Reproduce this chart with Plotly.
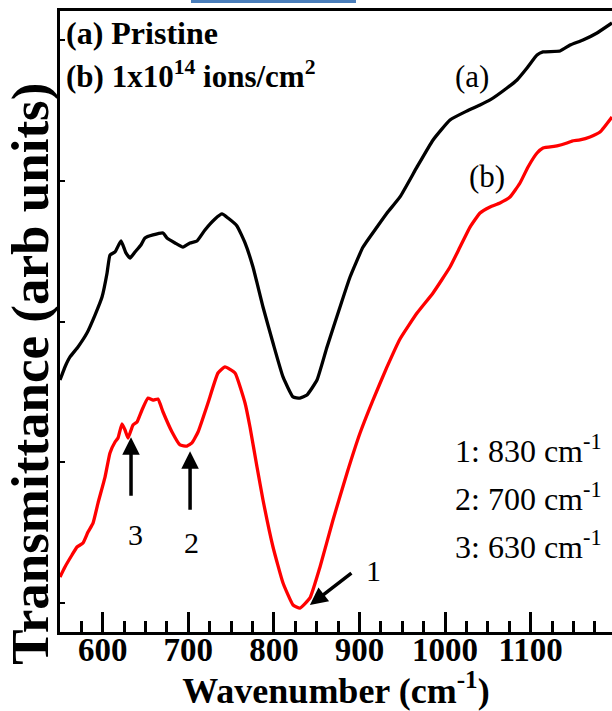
import numpy as np
import plotly.graph_objects as go

# ---- Data ----
# (a) Pristine
wn_a = [550.0, 555.8, 561.7, 571.0, 581.5, 590.9, 599.1, 605.0, 608.4, 614.3,
        621.3, 627.1, 631.8, 637.6, 644.6, 649.3, 658.7, 670.4, 675.0, 684.4,
        693.7, 701.9, 710.1, 719.4, 731.1, 739.3, 746.3, 756.8, 766.2, 775.5,
        787.2, 798.9, 810.6, 822.3, 830.4, 838.6, 850.3, 862.0, 877.2, 888.9,
        904.1, 920.4, 932.1, 947.3, 967.2, 985.9, 1005.7, 1025.6, 1040.8, 1052.5,
        1072.3, 1084.0, 1095.7, 1107.4, 1114.4, 1134.3, 1146.0, 1161.1, 1177.5, 1195.0]
t_a = [1.584, 1.677, 1.748, 1.819, 1.918, 2.046, 2.174, 2.345, 2.472, 2.494,
       2.572, 2.487, 2.451, 2.494, 2.544, 2.593, 2.615, 2.629, 2.593, 2.558,
       2.529, 2.558, 2.572, 2.650, 2.728, 2.764, 2.735, 2.679, 2.558, 2.387,
       2.103, 1.847, 1.606, 1.464, 1.456, 1.478, 1.584, 1.819, 2.103, 2.316,
       2.529, 2.671, 2.771, 2.885, 3.098, 3.290, 3.432, 3.496, 3.538, 3.574,
       3.659, 3.716, 3.801, 3.893, 3.915, 3.922, 3.964, 4.000, 4.050, 4.121]

# (b) 1x10^14 ions/cm^2
wn_b = [550.0, 555.8, 564.0, 569.9, 576.9, 582.7, 588.6, 594.4, 602.6, 608.4,
        614.3, 617.8, 622.4, 626.0, 629.5, 635.3, 640.0, 645.8, 652.8, 658.7,
        664.5, 670.4, 680.9, 690.2, 698.4, 704.2, 711.3, 722.9, 734.6, 742.8,
        754.5, 766.2, 772.0, 780.2, 787.2, 798.9, 810.6, 822.3, 830.4, 842.1,
        853.8, 869.0, 885.4, 900.6, 915.7, 932.1, 947.3, 967.2, 985.9, 1005.7,
        1017.4, 1029.1, 1040.8, 1052.5, 1064.1, 1075.8, 1087.5, 1096.9, 1107.4, 1114.4,
        1130.7, 1142.4, 1148.3, 1157.6, 1169.3, 1181.0, 1195.0]
t_b = [0.185, 0.256, 0.341, 0.398, 0.426, 0.504, 0.568, 0.710, 0.895, 1.066,
       1.144, 1.172, 1.272, 1.229, 1.172, 1.265, 1.286, 1.371, 1.456, 1.442,
       1.449, 1.357, 1.215, 1.123, 1.115, 1.137, 1.215, 1.421, 1.634, 1.677,
       1.634, 1.421, 1.250, 0.966, 0.732, 0.398, 0.142, -0.014, -0.036, 0.036,
       0.256, 0.590, 0.924, 1.208, 1.442, 1.677, 1.876, 2.060, 2.203, 2.387,
       2.529, 2.671, 2.771, 2.814, 2.842, 2.885, 2.984, 3.098, 3.197, 3.233,
       3.247, 3.268, 3.282, 3.290, 3.311, 3.346, 3.453]

peak_ids = ["1", "2", "3"]
peak_wn = [830, 700, 630]
x_ticks = [600, 700, 800, 900, 1000, 1100]

FONT = "Liberation Serif"

fig = go.Figure()
fig.add_trace(go.Scatter(x=wn_a, y=t_a, mode="lines", name="(a)",
                         line=dict(color="black", width=3.3, shape="spline", smoothing=0.4)))
fig.add_trace(go.Scatter(x=wn_b, y=t_b, mode="lines", name="(b)",
                         line=dict(color="#ff0000", width=3.3, shape="spline", smoothing=0.4)))

ann = []
# legend-like labels
ann.append(dict(text="(a) Pristine", xref="paper", yref="paper", x=0.008, y=0.965,
                xanchor="left", yanchor="middle", showarrow=False,
                font=dict(family=FONT, size=32, color="black", weight="bold")))
ann.append(dict(text="(b) 1x10<sup>14</sup> ions/cm<sup>2</sup>", xref="paper", yref="paper",
                x=0.008, y=0.897, xanchor="left", yanchor="middle", showarrow=False,
                font=dict(family=FONT, size=31, color="black", weight="bold")))
# curve labels
ann.append(dict(text="(a)", x=1031, y=3.74, showarrow=False,
                font=dict(family=FONT, size=31, color="black")))
ann.append(dict(text="(b)", x=1049, y=3.03, showarrow=False,
                font=dict(family=FONT, size=31, color="black")))
# peak list
for i, (pid, wn) in enumerate(zip(peak_ids, peak_wn)):
    ann.append(dict(text=f"{pid}: {wn} cm<sup>-1</sup>", xref="paper", yref="paper",
                    x=0.712, y=0.294 - i * 0.0773, xanchor="left", yanchor="middle",
                    showarrow=False, font=dict(family=FONT, size=32, color="black")))

# arrows
arrow_cfg = {"1": (12, 43, -33), "2": (2, 0, 60), "3": (3, 0, 60)}
label_off = {"1": (86, 0.234), "2": (4, 0.433), "3": (8, 0.49)}
for pid, wn in zip(peak_ids, peak_wn):
    dx, axp, ayp = arrow_cfg[pid]
    xt = wn + dx
    yt = float(np.interp(xt, wn_b, t_b)) - 0.05
    ann.append(dict(text="", x=xt, y=yt, ax=axp, ay=ayp, showarrow=True,
                    arrowhead=2, arrowsize=1.0, arrowwidth=3.5, arrowcolor="black"))
    lx, ly = label_off[pid]
    ann.append(dict(text=pid, x=wn + lx, y=ly, showarrow=False,
                    font=dict(family=FONT, size=30, color="black")))

# y-axis title as rotated text
ann.append(dict(text="Transmittance (arb units)", xref="paper", yref="paper",
                x=-0.0525, y=0.416, xanchor="center", yanchor="middle", textangle=-90,
                showarrow=False, font=dict(family=FONT, size=53, color="black", weight="bold")))

fig.update_layout(
    width=612, height=711,
    margin=dict(l=60, r=0, t=11, b=79, autoexpand=False),
    paper_bgcolor="white", plot_bgcolor="white",
    showlegend=False,
    annotations=ann,
    font=dict(family=FONT),
    shapes=[dict(type="rect", xref="paper", yref="paper", x0=0.2373, x1=0.5362,
                 y0=1.0129, y1=1.0177, fillcolor="#4a7ebb", line=dict(width=0))],
)
fig.update_xaxes(
    range=[550, 1195], showline=True, linewidth=3, linecolor="black", mirror=True,
    ticks="inside", ticklen=20, tickwidth=3, tickcolor="black",
    tickvals=x_ticks, ticktext=[str(v) for v in x_ticks],
    minor=dict(dtick=25, tick0=0, ticks="inside", ticklen=11, tickwidth=3, tickcolor="black"),
    tickfont=dict(family=FONT, size=33, color="black", weight="bold"),
    ticklabelstandoff=-14,
    showgrid=False, zeroline=False, automargin=False,
    title=dict(text="Wavenumber (cm<sup>-1</sup>)", standoff=4,
               font=dict(family=FONT, size=36, color="black", weight="bold")),
)
fig.update_yaxes(
    range=[-0.206, 4.206], showline=True, linewidth=3, linecolor="black",
    ticks="inside", ticklen=5, tickwidth=2, tickcolor="black", dtick=1, tick0=0,
    showticklabels=False, showgrid=False, zeroline=False, automargin=False,
)

fig.write_html("out.html")
